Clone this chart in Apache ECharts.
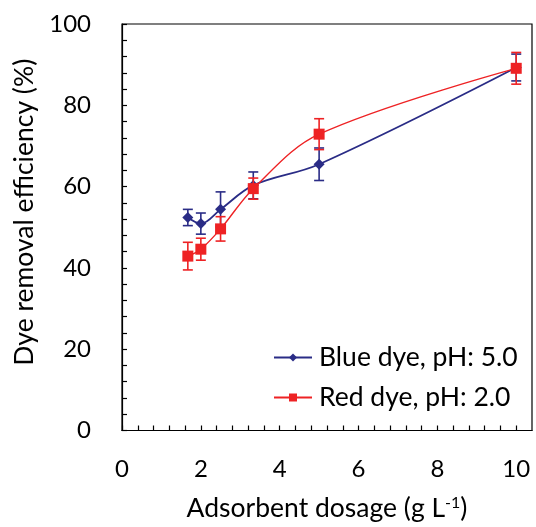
<!DOCTYPE html>
<html>
<head>
<meta charset="utf-8">
<script src="https://cdn.jsdelivr.net/npm/echarts@6/dist/echarts.min.js"></script>
<style>
  html, body { margin: 0; padding: 0; background: #fff; }
  #chart { width: 536px; height: 527px; }
</style>
</head>
<body>
<div id="chart"></div>
<script>
// Adsorbent dosage (g/L) and removal efficiency (%) with standard deviations
const dosage = [1.67, 2, 2.5, 3.33, 5, 10];
const blueEff = [52.4, 50.9, 54.4, 60.3, 65.5, 89.3];
const blueErr = [2.0, 2.6, 4.3, 3.3, 4.0, 3.3];
const redEff = [42.9, 44.6, 49.6, 59.5, 72.9, 89.1];
const redErr = [3.4, 2.7, 3.0, 2.6, 3.8, 3.9];
const xLabels = [0, 2, 4, 6, 8, 10];
const yLabels = [0, 20, 40, 60, 80, 100];

const BLUE = '#2A2C86';
const RED = '#EE2224';
const FONT = 'Lato';

function pairs(xs, ys) { return xs.map((x, i) => [x, ys[i]]); }
function errRows(xs, ys, es) { return xs.map((x, i) => [x, ys[i] - es[i], ys[i] + es[i]]); }

function errorBar(color) {
  return function (params, api) {
    const x = api.value(0);
    const lo = api.coord([x, api.value(1)]);
    const hi = api.coord([x, api.value(2)]);
    const half = 5;
    const style = { stroke: color, lineWidth: 1.6, fill: null };
    return {
      type: 'group',
      children: [
        { type: 'line', shape: { x1: lo[0], y1: lo[1], x2: hi[0], y2: hi[1] }, style },
        { type: 'line', shape: { x1: lo[0] - half, y1: lo[1], x2: lo[0] + half, y2: lo[1] }, style },
        { type: 'line', shape: { x1: hi[0] - half, y1: hi[1], x2: hi[0] + half, y2: hi[1] }, style }
      ]
    };
  };
}

function nearList(v, list) { return list.some(t => Math.abs(t - v) < 1e-6); }

const chart = echarts.init(document.getElementById('chart'), null, { renderer: 'canvas' });
chart.setOption({
  animation: false,
  textStyle: { fontFamily: FONT },
  grid: { left: 122, top: 24, right: 4, bottom: 91, show: true, borderColor: '#000', borderWidth: 1.2, containLabel: false },
  legend: {
    orient: 'vertical',
    left: 273,
    top: 343,
    padding: 0,
    itemWidth: 38,
    itemHeight: 10,
    itemGap: 11,
    textStyle: { fontFamily: FONT, fontSize: 26.5, color: '#000', lineHeight: 29, padding: [0, 0, 0, 2] },
    data: ['Blue dye, pH: 5.0', 'Red dye, pH: 2.0']
  },
  xAxis: {
    type: 'value',
    min: 0,
    max: 10.4,
    interval: 0.4,
    splitLine: { show: false },
    axisLine: { lineStyle: { color: '#000', width: 1.2 } },
    axisTick: { inside: true, length: 5, lineStyle: { color: '#000', width: 1.2 } },
    axisLabel: {
      margin: 27, fontSize: 24, color: '#000', fontFamily: FONT,
      showMaxLabel: false,
      formatter: v => nearList(v, xLabels) ? String(Math.round(v)) : ''
    },
    name: 'Adsorbent dosage (g L{sup|-1})',
    nameLocation: 'middle',
    nameGap: 64,
    nameTextStyle: {
      fontSize: 26.5, color: '#000', fontFamily: FONT,
      rich: { sup: { fontSize: 16, fontFamily: FONT, color: '#000', padding: [0, 0, 12, 0] } }
    }
  },
  yAxis: {
    type: 'value',
    min: 0,
    max: 100,
    interval: 4,
    splitLine: { show: false },
    axisLine: { lineStyle: { color: '#000', width: 1.2 } },
    axisTick: { inside: true, length: 5, lineStyle: { color: '#000', width: 1.2 } },
    axisLabel: {
      margin: 31, fontSize: 24, color: '#000', fontFamily: FONT,
      formatter: v => nearList(v, yLabels) ? String(Math.round(v)) : ''
    },
    name: 'Dye removal efficiency (%)',
    nameLocation: 'middle',
    nameGap: 83,
    nameTextStyle: { fontSize: 26.5, color: '#000', fontFamily: FONT, padding: [0, 0, 0, 30] }
  },
  series: [
    {
      type: 'custom',
      name: 'blue-err',
      renderItem: errorBar(BLUE),
      data: errRows(dosage, blueEff, blueErr),
      encode: { x: 0, y: [1, 2] },
      z: 2
    },
    {
      type: 'line',
      name: 'Blue dye, pH: 5.0',
      data: pairs(dosage, blueEff),
      smooth: 0.35,
      symbol: 'diamond',
      symbolSize: 11,
      lineStyle: { color: BLUE, width: 1.8 },
      itemStyle: { color: BLUE },
      z: 3
    },
    {
      type: 'custom',
      name: 'red-err',
      renderItem: errorBar(RED),
      data: errRows(dosage, redEff, redErr),
      encode: { x: 0, y: [1, 2] },
      z: 4
    },
    {
      type: 'line',
      name: 'Red dye, pH: 2.0',
      data: pairs(dosage, redEff),
      smooth: 0.35,
      symbol: 'rect',
      symbolSize: 11,
      lineStyle: { color: RED, width: 1.4 },
      itemStyle: { color: RED },
      z: 5
    }
  ]
});
</script>
</body>
</html>
